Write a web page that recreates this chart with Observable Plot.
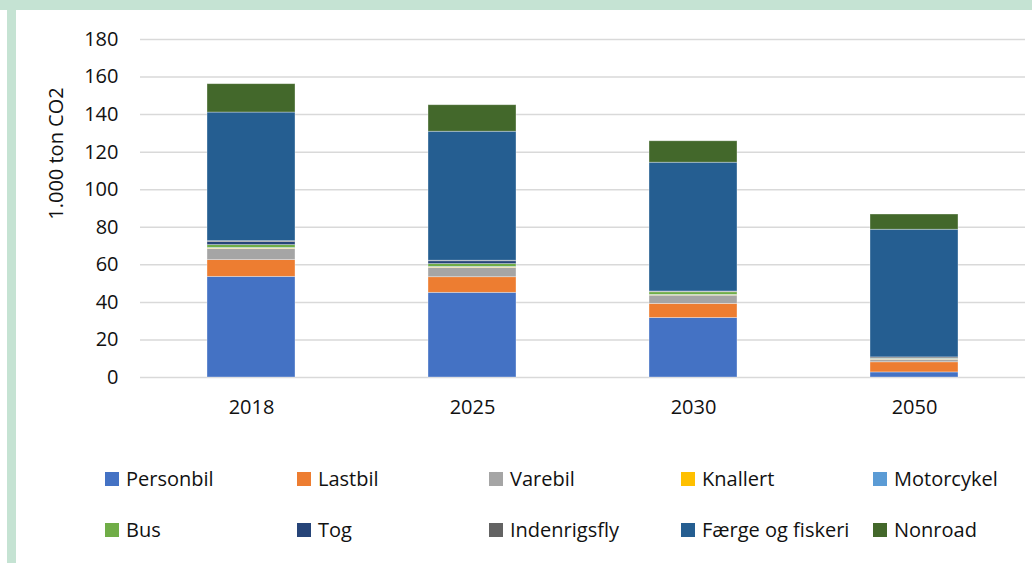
<!DOCTYPE html>
<html>
<head>
<meta charset="utf-8">
<script src="https://cdn.jsdelivr.net/npm/d3@7"></script>
<script src="https://cdn.jsdelivr.net/npm/@observablehq/plot@0.6"></script>
<style>
  html, body { margin: 0; padding: 0; background: #fff; }
  #wrap { position: relative; width: 1032px; height: 563px; overflow: hidden; background: #fff; font-family: "Open Sans", sans-serif; }
  .band { position: absolute; background: #c5e3d3; }
  #chart { position: absolute; left: 0; top: 0; }
  .item { position: absolute; display: flex; align-items: center; height: 20px; font-size: 20px; color: #111; white-space: nowrap; line-height: 1; }
  .sw { width: 14px; height: 14px; margin-right: 7px; flex: none; }
</style>
</head>
<body>
<div id="wrap">
  <div class="band" style="left:0;top:0;width:1032px;height:10px"></div>
  <div class="band" style="left:7px;top:0;width:9px;height:563px"></div>
  <div id="chart"></div>
  <div id="legend"></div>
</div>
<script>
const years = ["2018", "2025", "2030", "2050"];
const categories = ["Personbil", "Lastbil", "Varebil", "Knallert", "Motorcykel", "Bus", "Tog", "Indenrigsfly", "Færge og fiskeri", "Nonroad"];
const colors = ["#4472C4", "#ED7D31", "#A5A5A5", "#FFC000", "#5B9BD5", "#70AD47", "#264478", "#636363", "#255E91", "#43682B"];

const personbil    = [53.6, 45.1, 31.7, 2.7];
const lastbil      = [8.9, 8.3, 7.5, 5.4];
const varebil      = [6.0, 5.0, 4.4, 1.4];
const knallert     = [0.2, 0.2, 0.2, 0.1];
const motorcykel   = [0.3, 0.3, 0.2, 0.1];
const bus          = [1.5, 1.5, 1.4, 0.3];
const tog          = [1.6, 1.5, 0.2, 0.1];
const indenrigsfly = [0.5, 0.3, 0.2, 0.6];
const faerge       = [68.5, 68.7, 68.6, 68.0];
const nonroad      = [15.1, 14.1, 11.4, 8.1];

const yTicks = [0, 20, 40, 60, 80, 100, 120, 140, 160, 180];
const yLabel = "1.000 ton CO2";

const series = [personbil, lastbil, varebil, knallert, motorcykel, bus, tog, indenrigsfly, faerge, nonroad];
const data = [];
years.forEach((yr, i) => {
  categories.forEach((c, j) => data.push({year: yr, category: c, value: series[j][i]}));
});

const font = "\"Open Sans\", sans-serif";

const chart = Plot.plot({
  width: 1032,
  height: 440,
  marginLeft: 140,
  marginRight: 7,
  marginTop: 39,
  marginBottom: 63,
  style: {fontFamily: font, fontSize: "20px", color: "#111", background: "transparent"},
  x: {domain: years, paddingInner: 0.6, paddingOuter: 0.3, label: null, tickSize: 0, tickPadding: 22},
  y: {domain: [0, 180], ticks: yTicks, label: null, tickSize: 0, tickPadding: 22},
  color: {domain: categories, range: colors},
  marks: [
    Plot.ruleY(yTicks, {stroke: "#d9d9d9", strokeWidth: 1.5}),
    Plot.barY(data, {x: "year", y: "value", fill: "category", order: categories, stroke: "white", strokeWidth: 0.75, strokeOpacity: 0.45}),
    Plot.text([yLabel], {frameAnchor: "left", textAnchor: "middle", rotate: -90, dx: -84, dy: -55, fontSize: 20, fill: "#111"})
  ]
});
document.getElementById("chart").appendChild(chart);

const legend = document.getElementById("legend");
const colX = [105, 297, 489, 681, 873];
const rowY = [479, 530];
categories.forEach((c, j) => {
  const el = document.createElement("div");
  el.className = "item";
  el.style.left = colX[j % 5] + "px";
  el.style.top = (rowY[Math.floor(j / 5)] - 10) + "px";
  const sw = document.createElement("span");
  sw.className = "sw";
  sw.style.background = colors[j];
  const tx = document.createElement("span");
  tx.textContent = c;
  el.appendChild(sw);
  el.appendChild(tx);
  legend.appendChild(el);
});
</script>
</body>
</html>
